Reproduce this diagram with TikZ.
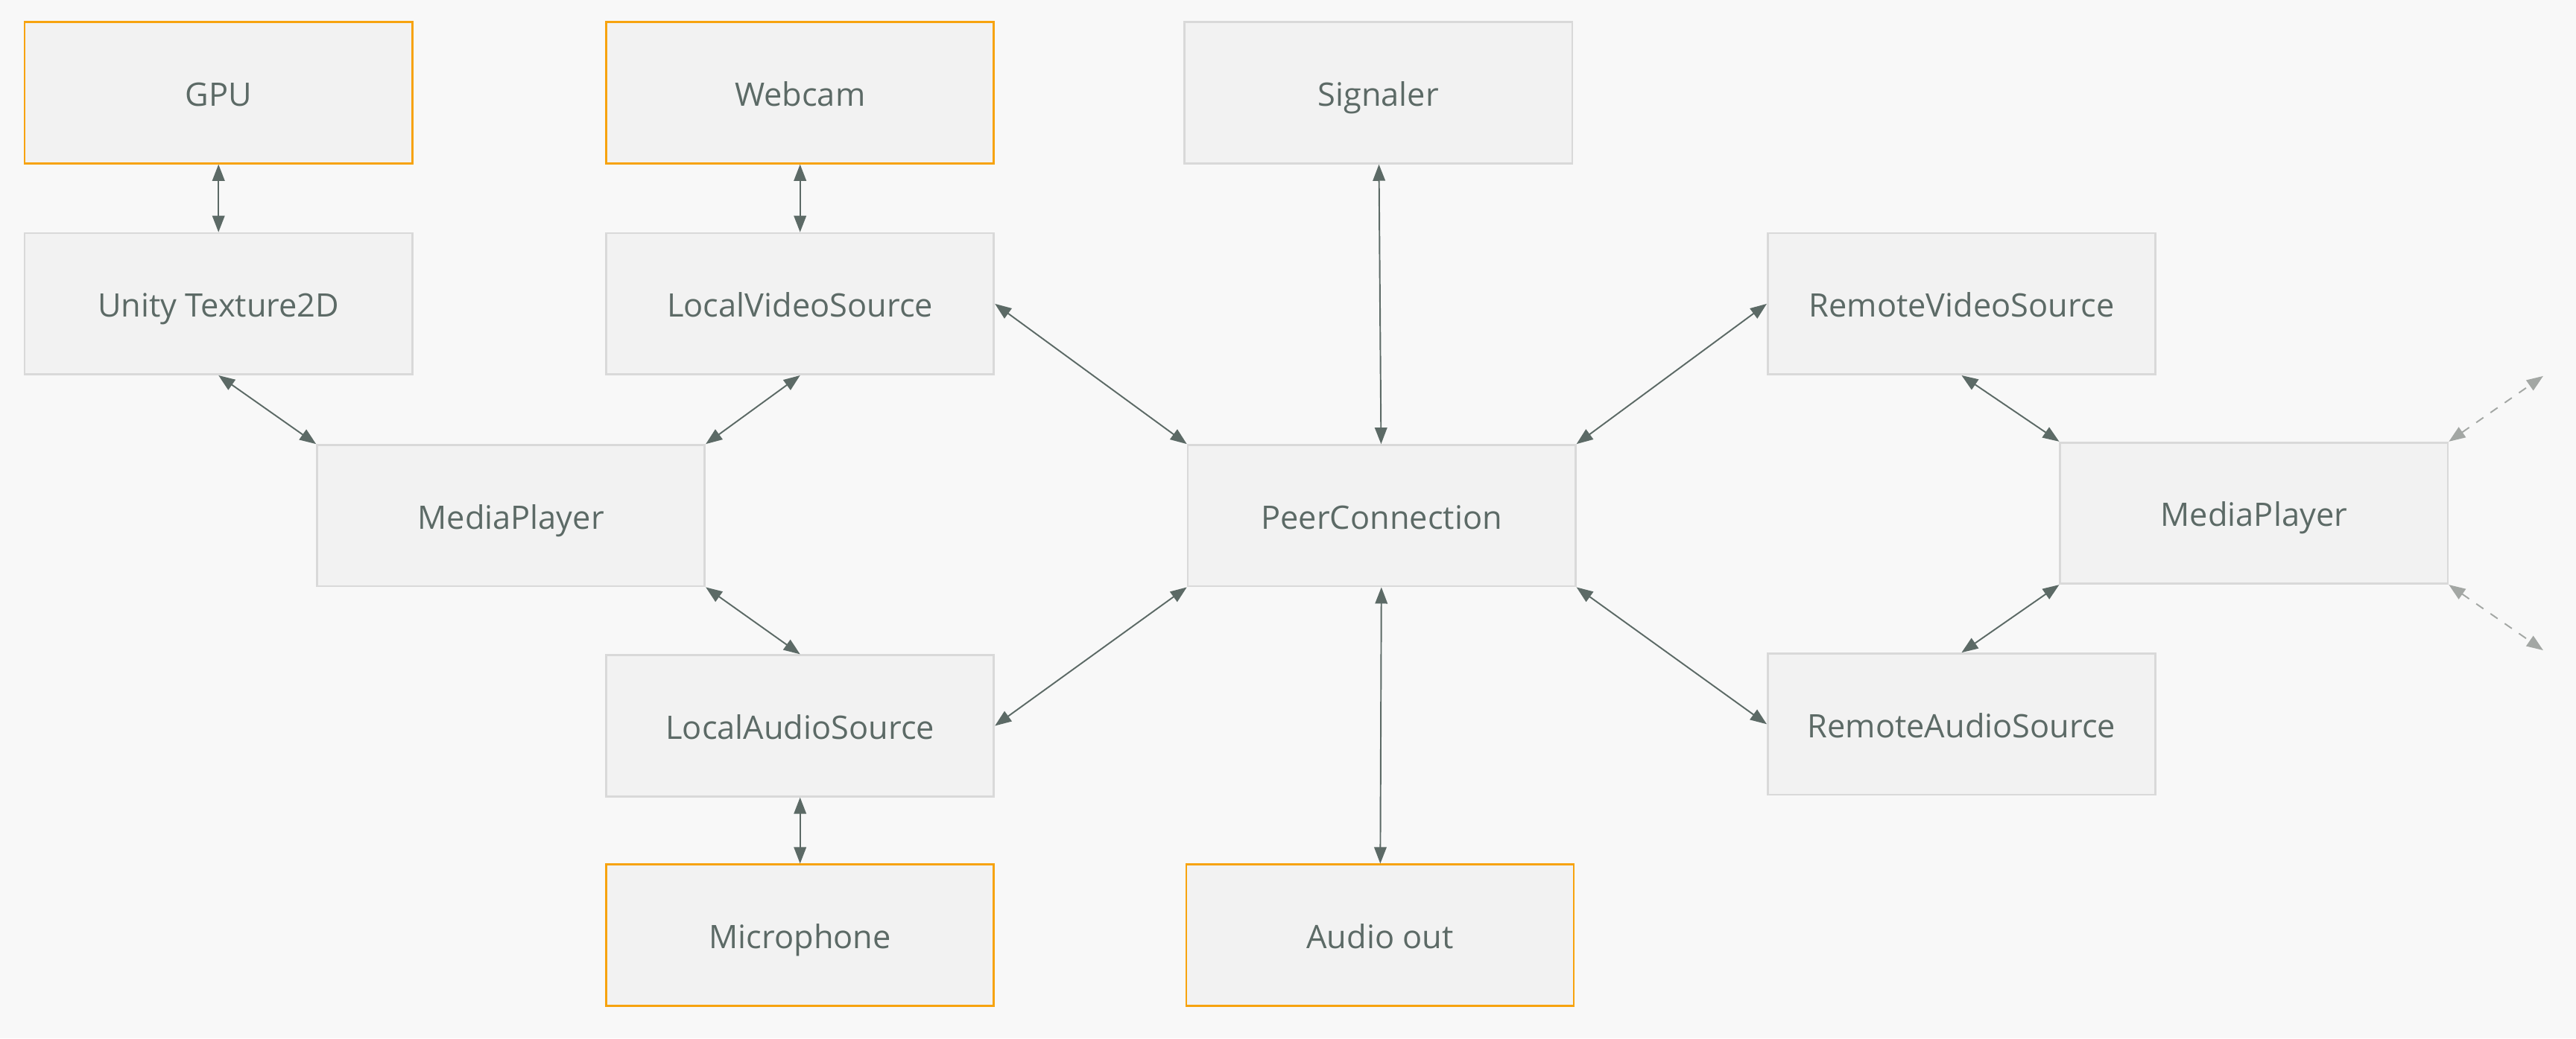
\documentclass[tikz,border=0pt]{standalone}
\usepackage{fontspec}
\setmainfont{Open Sans}
\usepackage{xcolor}
\usepackage{tikz}
\usetikzlibrary{arrows.meta, positioning}

\definecolor{bgcol}{HTML}{F8F8F8}
\definecolor{boxfill}{HTML}{F2F2F2}
\definecolor{boxline}{HTML}{D9D9D9}
\definecolor{devline}{HTML}{F7A30F}
\definecolor{inkcol}{HTML}{5C6A66}
\definecolor{fadecol}{HTML}{A3A7A4}

\begin{document}
\begin{tikzpicture}[x=0.02cm, y=-0.02cm, >={Triangle[length=0.2cm, width=0.15cm]},
    box/.style={rectangle, draw=boxline, fill=boxfill, line width=0.7pt, minimum width=4.72cm, minimum height=1.72cm, inner sep=0pt, text height=0.92em, text depth=0pt, text=inkcol, font=\fontsize{11.2}{13}\selectfont},
    device/.style={box, draw=devline},
    link/.style={<->, draw=inkcol, line width=0.5pt},
    extlink/.style={<->, draw=fadecol, line width=0.5pt, dashed}]
    \fill[bgcol] (0,0) rectangle (1568,632.3);

    \node[device] (gpu) at (133,56.5) {GPU};
    \node[device] (webcam) at (487,56.5) {Webcam};
    \node[box] (signaler) at (839,56.5) {Signaler};
    \node[box] (texture) at (133,185) {Unity Texture2D};
    \node[box] (localvideo) at (487,185) {LocalVideoSource};
    \node[box] (remotevideo) at (1194,185) {RemoteVideoSource};
    \node[box] (playerleft) at (311,314) {MediaPlayer};
    \node[box] (peer) at (841,314) {PeerConnection};
    \node[box] (playerright) at (1372,312.5) {MediaPlayer};
    \node[box] (localaudio) at (487,442) {LocalAudioSource};
    \node[box] (remoteaudio) at (1194,441) {RemoteAudioSource};
    \node[device] (mic) at (487,569.5) {Microphone};
    \node[device] (audioout) at (840,569.5) {Audio out};
    \coordinate (outup) at (1548,229);
    \coordinate (outdown) at (1548,396);

    \draw[link] (gpu) -- (texture);
    \draw[link] (webcam) -- (localvideo);
    \draw[link] (texture.south) -- (playerleft.north west);
    \draw[link] (localvideo.south) -- (playerleft.north east);
    \draw[link] (playerleft.south east) -- (localaudio.north);
    \draw[link] (localaudio) -- (mic);
    \draw[link] (localvideo.east) -- (peer.north west);
    \draw[link] (localaudio.east) -- (peer.south west);
    \draw[link] (signaler) -- (peer);
    \draw[link] (peer) -- (audioout);
    \draw[link] (peer.north east) -- (remotevideo.west);
    \draw[link] (peer.south east) -- (remoteaudio.west);
    \draw[link] (remotevideo.south) -- (playerright.north west);
    \draw[link] (remoteaudio.north) -- (playerright.south west);
    \draw[extlink] (playerright.north east) -- (outup);
    \draw[extlink] (playerright.south east) -- (outdown);
\end{tikzpicture}
\end{document}
